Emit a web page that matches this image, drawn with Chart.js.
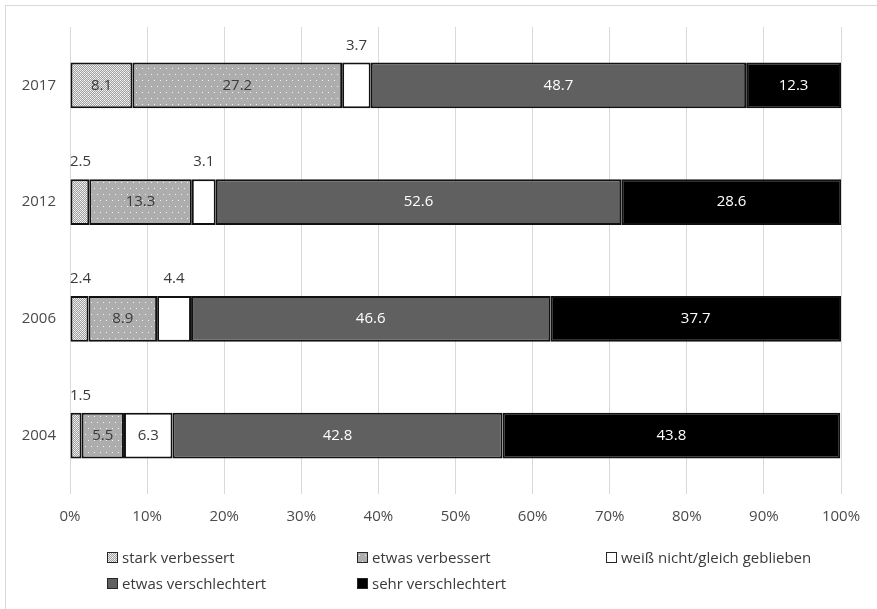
<!DOCTYPE html>
<html>
<head>
<meta charset="utf-8">
<script src="https://cdn.jsdelivr.net/npm/chart.js@4.4.0/dist/chart.umd.min.js"></script>
<style>
  html, body { margin: 0; padding: 0; background: #fff; }
  #wrap { position: relative; width: 877px; height: 609px; overflow: hidden; background: #fff; }
  #frame { position: absolute; left: 5px; top: 5px; width: 900px; height: 700px; border: 1px solid #d9d9d9; box-sizing: border-box; }
  #c { position: absolute; left: 0; top: 0; }
  .lg { position: absolute; font-family: "Open Sans", sans-serif; font-size: 15px; color: #3a3a3a; white-space: nowrap; line-height: 18px; }
  .lg .box { position: absolute; left: 0; top: 4px; width: 9px; height: 9px; border: 1px solid #262626; }
  .lg .txt { position: absolute; left: 15px; top: 0; }
</style>
</head>
<body>
<div id="wrap">
  <div id="frame"></div>
  <canvas id="c" width="877" height="609"></canvas>
  <div id="legend"></div>
</div>
<script>
const years = ['2017', '2012', '2006', '2004'];
const seriesNames = ['stark verbessert', 'etwas verbessert', 'weiß nicht/gleich geblieben', 'etwas verschlechtert', 'sehr verschlechtert'];
const starkVerbessert = [8.1, 2.5, 2.4, 1.5];
const etwasVerbessert = [27.2, 13.3, 8.9, 5.5];
const weissNicht = [3.7, 3.1, 4.4, 6.3];
const etwasVerschlechtert = [48.7, 52.6, 46.6, 42.8];
const sehrVerschlechtert = [12.3, 28.6, 37.7, 43.8];
const xTicks = [0, 10, 20, 30, 40, 50, 60, 70, 80, 90, 100];

function tile(w, h, draw) {
  const c = document.createElement('canvas');
  c.width = w; c.height = h;
  const g = c.getContext('2d');
  draw(g);
  return c;
}
const starkTile = tile(4, 4, g => {
  g.fillStyle = '#e8e8e8'; g.fillRect(0, 0, 4, 4);
  g.fillStyle = '#a0a0a0';
  g.fillRect(1, 0, 1, 1); g.fillRect(3, 0, 1, 1);
  g.fillRect(0, 1, 1, 1); g.fillRect(2, 1, 1, 1);
  g.fillRect(1, 2, 1, 1); g.fillRect(3, 2, 1, 1);
  g.fillRect(0, 3, 1, 1); g.fillRect(2, 3, 1, 1);
  g.fillStyle = '#ffffff';
  g.fillRect(0, 0, 1, 1); g.fillRect(2, 2, 1, 1);
});
const etwasTile = tile(6, 12, g => {
  g.fillStyle = '#adadad'; g.fillRect(0, 0, 6, 12);
  g.fillStyle = '#f2f2f2';
  g.fillRect(1, 2, 1, 1); g.fillRect(4, 8, 1, 1);
});
const ctx = document.getElementById('c').getContext('2d');
const starkPat = ctx.createPattern(starkTile, 'repeat');
const etwasPat = ctx.createPattern(etwasTile, 'repeat');

const fills = [starkPat, etwasPat, '#ffffff', '#606060', '#000000'];
const legendBg = [
  'url(' + starkTile.toDataURL() + ')',
  'url(' + etwasTile.toDataURL() + ')',
  '#ffffff', '#606060', '#000000'
];
const labelColors = ['#3a3a3a', '#3a3a3a', '#3a3a3a', '#ffffff', '#ffffff'];
const allData = [starkVerbessert, etwasVerbessert, weissNicht, etwasVerschlechtert, sehrVerschlechtert];

const datasets = allData.map((d, i) => ({
  label: seriesNames[i],
  data: d,
  backgroundColor: fills[i],
  borderColor: '#111111',
  borderWidth: 2,
  borderSkipped: false,
  barPercentage: 0.394,
  categoryPercentage: 1.0
}));

const labelPlugin = {
  id: 'valueLabels',
  afterDatasetsDraw(chart) {
    const c = chart.ctx;
    c.save();
    c.font = '15px "Open Sans", sans-serif';
    c.textBaseline = 'middle';
    chart.data.datasets.forEach((ds, di) => {
      const meta = chart.getDatasetMeta(di);
      meta.data.forEach((el, i) => {
        const v = ds.data[i];
        const p = el.getProps(['x', 'y', 'base', 'height'], true);
        const cx = (p.x + p.base) / 2;
        const txt = v.toFixed(1);
        if (v < 5) {
          const w = c.measureText(txt).width;
          let lx = cx - w / 2;
          if (lx < chart.chartArea.left) lx = chart.chartArea.left;
          c.fillStyle = '#3a3a3a';
          c.textAlign = 'left';
          c.fillText(txt, lx, p.y - p.height / 2 - 17);
        } else {
          c.fillStyle = labelColors[di];
          c.textAlign = 'center';
          c.fillText(txt, cx, p.y);
        }
      });
    });
    c.restore();
  }
};

new Chart(ctx, {
  type: 'bar',
  data: { labels: years, datasets },
  options: {
    indexAxis: 'y',
    responsive: false,
    animation: false,
    devicePixelRatio: 1,
    layout: { padding: { top: 27, right: 36, left: 0, bottom: 0 } },
    plugins: { legend: { display: false }, tooltip: { enabled: false } },
    scales: {
      x: {
        stacked: true,
        min: 0, max: 100,
        afterBuildTicks(scale) { scale.ticks = xTicks.map(v => ({ value: v })); },
        afterFit(scale) { scale.height = 115; },
        grid: { color: '#d9d9d9', lineWidth: 1, drawTicks: false },
        border: { display: false },
        ticks: {
          padding: 14,
          color: '#4a4a4a',
          font: { family: '"Open Sans", sans-serif', size: 15 },
          callback: v => v + '%',
          maxRotation: 0
        }
      },
      y: {
        stacked: true,
        afterFit(scale) { scale.width = 70; },
        grid: { display: false, drawTicks: false },
        border: { display: false },
        ticks: {
          padding: 14,
          color: '#4a4a4a',
          font: { family: '"Open Sans", sans-serif', size: 15 }
        }
      }
    }
  },
  plugins: [labelPlugin]
});

// legend
const legendPos = [
  [107, 548], [357, 548], [606, 548],
  [107, 574], [357, 574]
];
const lg = document.getElementById('legend');
seriesNames.forEach((n, i) => {
  const d = document.createElement('div');
  d.className = 'lg';
  d.style.left = legendPos[i][0] + 'px';
  d.style.top = legendPos[i][1] + 'px';
  const b = document.createElement('span');
  b.className = 'box';
  b.style.background = legendBg[i];
  const t = document.createElement('span');
  t.className = 'txt';
  t.textContent = n;
  d.appendChild(b); d.appendChild(t);
  lg.appendChild(d);
});
</script>
</body>
</html>
